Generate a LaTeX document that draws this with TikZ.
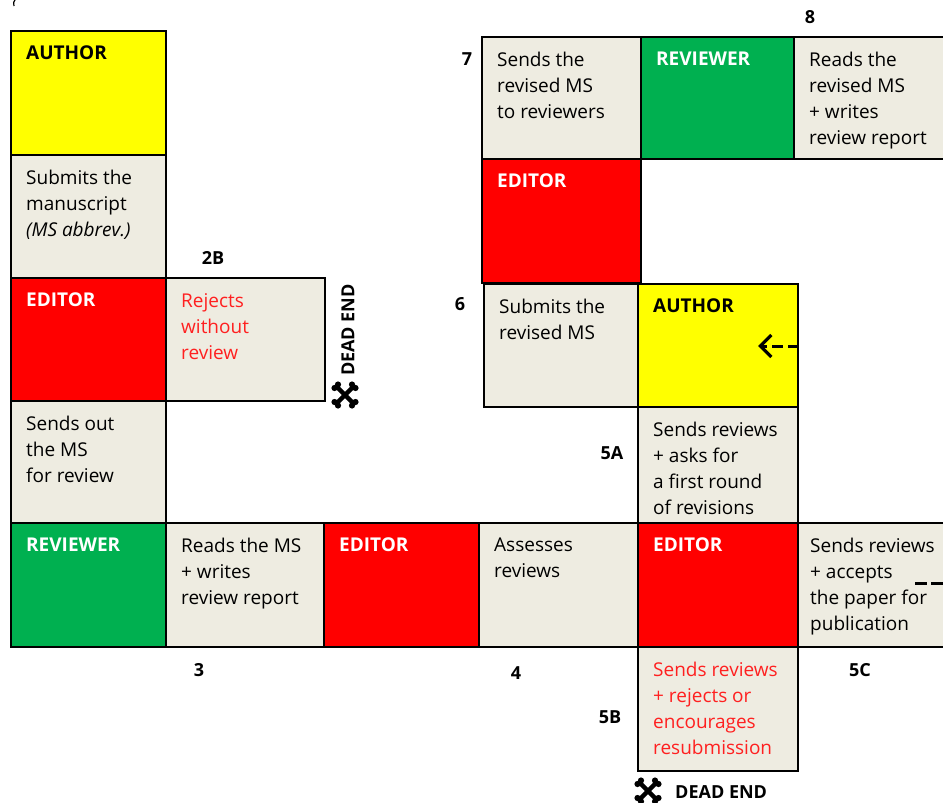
\documentclass[tikz,border=0pt]{standalone}
\usepackage{fontspec}
\setmainfont{Open Sans}
\usetikzlibrary{arrows.meta,calc}

\definecolor{paper}{HTML}{EEECE1}
\definecolor{revgreen}{HTML}{00B050}
\definecolor{edred}{HTML}{FF0000}
\definecolor{authyellow}{HTML}{FFFF00}
\definecolor{rejred}{HTML}{FF2020}

\tikzset{
  cell/.style={draw=black, line width=1.8pt, inner sep=0pt, anchor=north west},
  author/.style={cell, fill=authyellow},
  editor/.style={cell, fill=edred},
  reviewer/.style={cell, fill=revgreen},
  task/.style={cell, fill=paper},
  body/.style={inner sep=0pt, anchor=north west, align=left,
    font=\fontsize{19}{26}\selectfont, execute at begin node={\rule{0pt}{13.5pt}}},
  role/.style={body, font=\fontsize{19}{26}\selectfont\bfseries},
  stepno/.style={inner sep=0pt, font=\fontsize{18}{20}\selectfont\bfseries},
  deadend/.style={line width=4.5pt, line cap=round},
  flow/.style={line width=3pt, dash pattern=on 11pt off 5pt},
}

% helper: place the text of a cell 16pt in and 16pt down from its top-left corner
\newcommand\celltext[3]{\node[#1] at ($(#2.north west)+(16,-16)$) {#3};}

\begin{document}
\begin{tikzpicture}[x=1pt,y=1pt]
\useasboundingbox (0,0) rectangle (943,-803);
\clip (0,0) rectangle (943,-803);

% ---------- left column ----------
\node[author,   minimum width=155, minimum height=124] (a1) at (10,-30)  {};
\node[task,     minimum width=155, minimum height=123] (a2) at (10,-154) {};
\node[editor,   minimum width=155, minimum height=123] (a3) at (10,-277) {};
\node[task,     minimum width=159, minimum height=123] (b2) at (165,-277) {};
\node[task,     minimum width=155, minimum height=122] (a4) at (10,-400) {};

% ---------- bottom row ----------
\node[reviewer, minimum width=155, minimum height=124] (r1) at (10,-522)  {};
\node[task,     minimum width=158, minimum height=124] (r2) at (165,-522) {};
\node[editor,   minimum width=155, minimum height=124] (r3) at (323,-522) {};
\node[task,     minimum width=159, minimum height=124] (r4) at (478,-522) {};
\node[editor,   minimum width=160, minimum height=124] (r5) at (637,-522) {};
\node[task,     minimum width=170, minimum height=124] (r6) at (797,-522) {};
\node[task,     minimum width=160, minimum height=124] (s5b) at (637,-646) {};

% ---------- right column ----------
\node[task,     minimum width=160, minimum height=116] (s5a) at (637,-406) {};
\node[author,   minimum width=160, minimum height=123] (s6a) at (637,-283) {};
\node[task,     minimum width=154, minimum height=123] (s6)  at (483,-283) {};
\node[editor,   minimum width=159, minimum height=124] (e7)  at (481,-158) {};
\node[task,     minimum width=159, minimum height=122] (s7)  at (481,-36)  {};
\node[reviewer, minimum width=153, minimum height=122] (g8)  at (640,-36)  {};
\node[task,     minimum width=170, minimum height=122] (s8)  at (793,-36)  {};

% ---------- cell texts ----------
\celltext{role}{a1}{AUTHOR}
\celltext{body}{a2}{Submits the\\manuscript\\\textit{(MS abbrev.)}}
\celltext{role, text=white}{a3}{EDITOR}
\celltext{body, text=rejred}{b2}{Rejects\\without\\review}
\celltext{body}{a4}{Sends out\\the MS\\for review}

\celltext{role, text=white}{r1}{REVIEWER}
\celltext{body}{r2}{Reads the MS\\+ writes\\review report}
\celltext{role, text=white}{r3}{EDITOR}
\celltext{body}{r4}{Assesses\\reviews}
\celltext{role, text=white}{r5}{EDITOR}
\node[body] at ($(r6.north west)+(13,-16)$) {Sends reviews\\+ accepts\\the paper for\\publication};
\celltext{body, text=rejred}{s5b}{Sends reviews\\+ rejects or\\encourages\\resubmission}

\celltext{body}{s5a}{Sends reviews\\+ asks for\\a first round\\of revisions}
\celltext{role}{s6a}{AUTHOR}
\celltext{body}{s6}{Submits the\\revised MS}
\celltext{role, text=white}{e7}{EDITOR}
\celltext{body}{s7}{Sends the\\revised MS\\to reviewers}
\celltext{role, text=white}{g8}{REVIEWER}
\celltext{body}{s8}{Reads the\\revised MS\\+ writes\\review report}

% ---------- step numbers ----------
\node[stepno] (n2b) at (213,-258) {2B};
\node[stepno] (n3)  at (199,-670) {3};
\node[stepno] (n4)  at (516,-673) {4};
\node[stepno] (n5a) at (612,-453) {5A};
\node[stepno] (n5b) at (610,-717) {5B};
\node[stepno] (n5c) at (860,-670) {5C};
\node[stepno] (n6)  at (460,-304) {6};
\node[stepno] (n7)  at (467,-59)  {7};
\node[stepno] (n8)  at (810,-17)  {8};

% ---------- dead ends ----------
\node[stepno, rotate=90] (de1) at (348,-330) {DEAD END};
\node[stepno, anchor=west] (de2) at (675,-792) {DEAD END};

\foreach \cx/\cy in {345/-395, 648/-791}{
  \begin{scope}[shift={(\cx,\cy)}]
    \draw[deadend] (-8,-8) -- (8,8);
    \draw[deadend] (-8,8) -- (8,-8);
    \foreach \sx/\sy in {1/1,1/-1,-1/1,-1/-1}{
      \fill (\sx*10.5,\sy*7) circle (3.1);
      \fill (\sx*7,\sy*10.5) circle (3.1);
    }
  \end{scope}
}

% ---------- dashed connectors ----------
\coordinate (loopin) at (s6a.east |- 0,-346);
\coordinate (loophead) at (758,-346);
\draw[flow, -{Straight Barb[length=11pt,width=22pt,line width=3.2pt]}] (loopin) -- (loophead);

\coordinate (acc1) at (915,-583);
\coordinate (acc2) at (965,-583);
\draw[line width=3pt, dash pattern=on 12pt off 4pt] (acc1) -- (acc2);

% leftover bracket stroke at the top edge
\draw[line width=1.2pt] (15.5,1) .. controls (13.5,-2) .. (14,-6);

\end{tikzpicture}
\end{document}
